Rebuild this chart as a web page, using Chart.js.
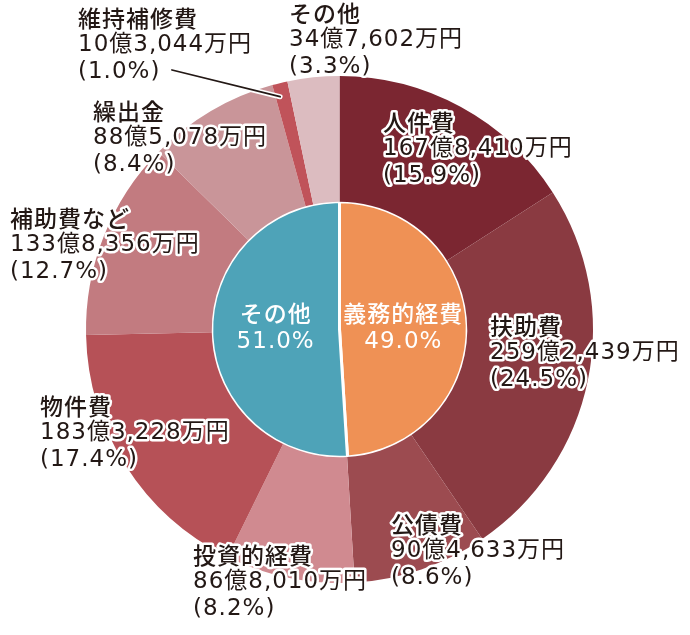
<!DOCTYPE html>
<html>
<head>
<meta charset="utf-8">
<script src="https://cdn.jsdelivr.net/npm/chart.js@4"></script>
<style>
  html, body { margin: 0; padding: 0; background: #fff; }
  #wrap { width: 690px; height: 635px; }
</style>
</head>
<body>
<div id="wrap"><canvas id="pieChart" width="690" height="635"></canvas></div>
<script>
// 歳出の内訳（単位：万円）
const itemNames = ['人件費', '扶助費', '公債費', '投資的経費', '物件費', '補助費など', '繰出金', '維持補修費', 'その他'];
const itemAmounts = [1678410, 2592439, 904633, 868010, 1833228, 1338356, 885078, 103044, 347602];
const itemAmountText = ['167億8,410万円', '259億2,439万円', '90億4,633万円', '86億8,010万円', '183億3,228万円',
                        '133億8,356万円', '88億5,078万円', '10億3,044万円', '34億7,602万円'];
const itemShares = ['15.9%', '24.5%', '8.6%', '8.2%', '17.4%', '12.7%', '8.4%', '1.0%', '3.3%'];
const itemColors = ['#7b2631', '#8a3a41', '#9c4b50', '#d08a90', '#b65157', '#c27b80', '#c99599', '#c0535a', '#dcbcc0'];

const groupNames = ['義務的経費', 'その他'];
const groupShares = [49.0, 51.0];
const groupColors = ['#ef9155', '#4ea3b8'];

// label top-left positions (text only)
const labelPos = [
    [383, 111], [490, 315], [391, 513], [193, 544], [40, 395],
    [10, 207], [93, 100], [78, 7], [289, 2]
];

const FONT = '"DejaVu Sans", "Noto Sans CJK JP", sans-serif';
const CJK = '"Noto Sans CJK JP", sans-serif';

function haloText(ctx, text, x, y) {
    ctx.strokeStyle = '#fff';
    ctx.lineWidth = 5;
    ctx.lineJoin = 'round';
    ctx.strokeText(text, x, y);
    ctx.fillStyle = '#231815';
    ctx.fillText(text, x, y);
}

const labelPlugin = {
    id: 'labelPlugin',
    afterDatasetsDraw(chart) {
        const ctx = chart.ctx;
        ctx.save();

        // leader line for 維持補修費
        const arc = chart.getDatasetMeta(0).data[7];
        const mid = (arc.startAngle + arc.endAngle) / 2;
        const r = arc.outerRadius - 14;
        const ex = arc.x + Math.cos(mid) * r - 3;
        const ey = arc.y + Math.sin(mid) * r;
        ctx.beginPath();
        ctx.moveTo(172, 70);
        ctx.lineTo(ex, ey);
        ctx.strokeStyle = '#fff';
        ctx.lineWidth = 5;
        ctx.lineCap = 'round';
        ctx.stroke();
        ctx.beginPath();
        ctx.moveTo(172, 70);
        ctx.lineTo(ex, ey);
        ctx.strokeStyle = '#231815';
        ctx.lineWidth = 1.8;
        ctx.stroke();

        ctx.textBaseline = 'top';
        ctx.textAlign = 'left';
        ctx.letterSpacing = '1px';
        for (let i = 0; i < itemNames.length; i++) {
            const [x, y] = labelPos[i];
            ctx.font = '500 23px ' + CJK;
            haloText(ctx, itemNames[i], x, y);
            ctx.font = '23px ' + FONT;
            haloText(ctx, itemAmountText[i], x, y + 27);
            haloText(ctx, '(' + itemShares[i] + ')', x, y + 54);
        }

        // center labels
        const pie = chart.getDatasetMeta(1).data;
        ctx.textAlign = 'center';
        ctx.textBaseline = 'middle';
        ctx.fillStyle = '#fff';
        for (let i = 0; i < groupNames.length; i++) {
            const a = pie[i];
            const m = (a.startAngle + a.endAngle) / 2;
            const cx = a.x + Math.cos(m) * a.outerRadius * 0.5;
            ctx.font = '500 23px ' + CJK;
            ctx.fillText(groupNames[i], cx, a.y - 16);
            ctx.font = '23px ' + FONT;
            ctx.fillText(groupShares[i].toFixed(1) + '%', cx, a.y + 13);
        }
        ctx.restore();
    }
};

new Chart(document.getElementById('pieChart').getContext('2d'), {
    type: 'pie',
    data: {
        labels: itemNames,
        datasets: [{
            data: itemAmounts,
            backgroundColor: itemColors,
            borderWidth: 0,
            weight: 125
        }, {
            data: groupShares,
            backgroundColor: groupColors,
            borderColor: '#fff',
            borderWidth: 3,
            weight: 127
        }]
    },
    options: {
        responsive: false,
        animation: false,
        layout: {
            padding: { left: 86, right: 97, top: 76, bottom: 52 }
        },
        plugins: {
            legend: { display: false },
            tooltip: { enabled: false }
        }
    },
    plugins: [labelPlugin]
});
</script>
</body>
</html>
